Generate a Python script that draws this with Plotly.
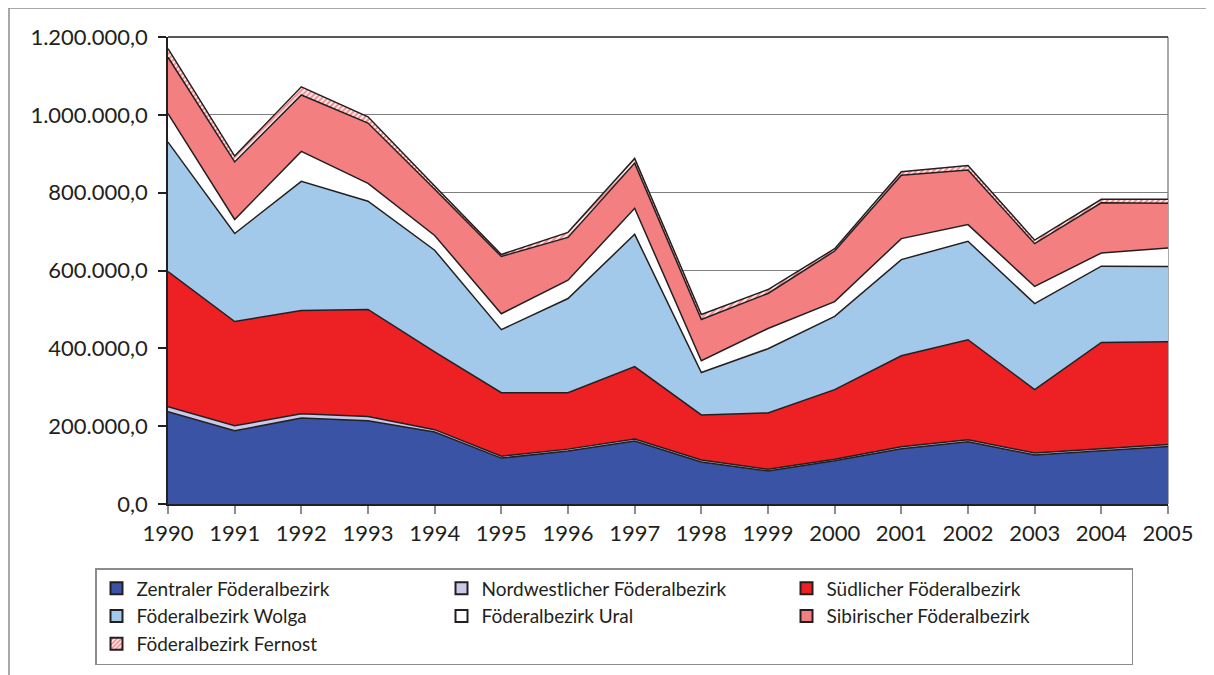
import plotly.graph_objects as go

years = list(range(1990, 2006))

zentraler = [237000, 188000, 221000, 214000, 185000, 118000, 136000, 162000,
             108000, 85000, 111000, 142000, 160000, 126000, 137000, 148000]
nordwest = [13000, 13000, 11000, 11000, 6000, 5000, 5000, 5000,
            5000, 4000, 4000, 5000, 5000, 5000, 5000, 5000]
suedlich = [347000, 268000, 265000, 275000, 200000, 163000, 145000, 186000,
            116000, 145000, 179000, 234000, 257000, 163000, 273000, 264000]
wolga = [333000, 226000, 332000, 278000, 261000, 162000, 242000, 340000,
         109000, 165000, 188000, 247000, 253000, 221000, 196000, 193000]
ural = [73000, 36000, 77000, 46000, 38000, 41000, 47000, 67000,
        30000, 52000, 38000, 54000, 43000, 44000, 34000, 48000]
sibirisch = [145000, 148000, 145000, 155000, 119000, 147000, 110000, 116000,
             106000, 90000, 130000, 163000, 140000, 110000, 129000, 115000]
fernost = [22000, 15000, 21000, 16000, 8000, 5000, 13000, 12000,
           13000, 10000, 6000, 9000, 12000, 9000, 9000, 10000]

names = ["Zentraler Föderalbezirk", "Nordwestlicher Föderalbezirk",
         "Südlicher Föderalbezirk", "Föderalbezirk Wolga",
         "Föderalbezirk Ural", "Sibirischer Föderalbezirk",
         "Föderalbezirk Fernost"]
series = [zentraler, nordwest, suedlich, wolga, ural, sibirisch, fernost]
colors = ["#3A53A4", "#C9CAE8", "#ED2024", "#A2C8EA", "#FFFFFF", "#F47F80", "#FFFFFF"]

LINE = "#231F20"
TXT = "#231F20"
FONT = "Lato"

fig = go.Figure()
for i, (nm, vals, col) in enumerate(zip(names, series, colors)):
    kw = {}
    if i == 6:
        kw["fillpattern"] = dict(shape="/", fgcolor="#ED2024", bgcolor="#FFFFFF",
                                 size=4, solidity=0.6)
    fig.add_trace(go.Scatter(
        x=years, y=vals, name=nm, mode="lines", stackgroup="one",
        line=dict(color=LINE, width=1.5), fillcolor=col,
        showlegend=False, hoverinfo="skip", **kw))

# legend entries (square swatches)
for i, (nm, col) in enumerate(zip(names, colors)):
    mk = dict(color=col, line=dict(color=LINE, width=1.5))
    if i == 6:
        mk["pattern"] = dict(shape="/", fgcolor="#ED2024", bgcolor="#FFFFFF",
                             size=4, solidity=0.6)
    fig.add_trace(go.Bar(x=[None], y=[None], name=nm, marker=mk, showlegend=True))

W = 1000.0
H = 467.0
def px(x):
    return (x - 168) / W
def py(y):
    return (504 - y) / H

shapes = [
    # outer frame (left + top visible)
    dict(type="rect", xref="paper", yref="paper", x0=px(9), x1=px(1300),
         y0=py(800), y1=py(8), line=dict(color="#8C8C8C", width=1.5),
         fillcolor="rgba(0,0,0,0)", layer="below"),
    # plot area top and right borders
    dict(type="line", xref="paper", yref="paper", x0=0, x1=1, y0=1, y1=1,
         line=dict(color=LINE, width=1.5)),
    dict(type="line", xref="paper", yref="paper", x0=1, x1=1, y0=0, y1=1,
         line=dict(color="#8C8C8C", width=1.5), layer="below"),
]

fig.update_layout(
    width=1214, height=675,
    paper_bgcolor="white", plot_bgcolor="white",
    margin=dict(l=160, r=54, t=29, b=179),
    separators=",.",
    font=dict(family=FONT, color=TXT, size=22),
    shapes=shapes,
    showlegend=True,
    legend=dict(
        orientation="h", x=px(95), xanchor="left", y=py(568), yanchor="top",
        bordercolor="#8C8C8C", borderwidth=1.5, bgcolor="white",
        font=dict(family=FONT, size=19, color=TXT),
        entrywidth=300, entrywidthmode="pixels", traceorder="normal",
        itemsizing="constant",
    ),
    xaxis=dict(
        range=[1990, 2005], tickmode="linear", tick0=1990, dtick=1,
        showgrid=False, showline=True, linecolor=LINE, linewidth=1.5,
        ticks="outside", ticklen=8, tickcolor="#8C8C8C", tickwidth=1.5,
        ticklabelstandoff=1, zeroline=False,
        tickfont=dict(family=FONT, size=22, color=TXT),
    ),
    yaxis=dict(
        range=[0, 1200000], tickmode="linear", tick0=0, dtick=200000,
        tickformat=",.1f", showgrid=True, gridcolor="#7F7F7F", gridwidth=1,
        showline=True, linecolor=LINE, linewidth=1.5, zeroline=False,
        ticks="outside", ticklen=8, tickcolor=LINE, tickwidth=1.5,
        ticklabelstandoff=6,
        tickfont=dict(family=FONT, size=22, color=TXT),
    ),
    barmode="stack",
)

fig.write_html("out.html")
